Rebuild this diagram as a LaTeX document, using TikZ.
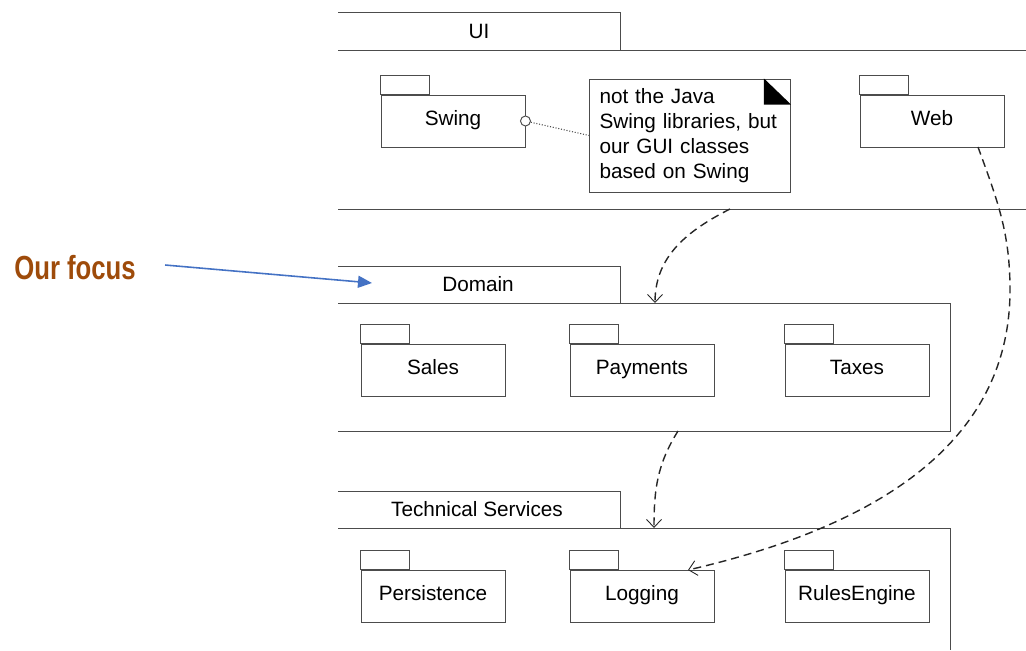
\documentclass[tikz,border=0pt]{standalone}
\usepackage{fontspec}
\setmainfont{Liberation Sans}
\newfontfamily\focusfont[FakeStretch = 0.77]{Liberation Sans}
\usetikzlibrary{arrows.meta}
\definecolor{focusbrown}{RGB}{158,75,10}
\definecolor{focusblue}{RGB}{68,114,196}

\begin{document}
\begin{tikzpicture}[
  x = 0.2mm, y = -0.2mm,
  every node/.style = {
    font = \fontsize{11.8}{14.2}\selectfont,
  },
  outline/.style = {
    draw = black!70,
    line width = 0.55pt,
  },
  package/.style = {
    outline,
    shape = rectangle,
    minimum width = 28.8mm,
    minimum height = 10.4mm,
    inner sep = 0pt,
    text height = 0.72em,
    text depth = 0.21em,
  },
  depend/.style = {
    draw = black!85,
    line width = 0.8pt,
    dash pattern = on 1.6mm off 1mm,
    -{Straight Barb[length = 1.6mm, width = 3mm, line width = 0.5pt]},
  }
]
  \useasboundingbox (0, 0) rectangle (1026, 650);

  \draw[outline] (338, 12) -| (620, 50);
  \draw[outline] (338, 50) -- (1026, 50);
  \draw[outline] (338, 209) -- (1026, 209);
  \node (ui) at (479, 31) {UI};

  \draw[outline] (338, 266) -| (620, 303);
  \draw[outline] (338, 303) -| (950, 431) -- (338, 431);
  \node (domain) at (478, 284) {Domain};

  \draw[outline] (338, 491) -| (620, 528);
  \draw[outline] (338, 528) -| (950, 650);
  \node (techservices) at (477, 509) {Technical Services};

  \node[package] (swing) at (453, 121) {Swing};
  \node[package] (web) at (932, 121) {Web};
  \node[package] (sales) at (433, 370) {Sales};
  \node[package] (payments) at (642, 370) {Payments};
  \node[package] (taxes) at (857, 370) {Taxes};
  \node[package] (persistence) at (433, 596) {Persistence};
  \node[package] (logging) at (642, 596) {Logging};
  \node[package] (rulesengine) at (857, 596) {RulesEngine};

  \foreach \pkg in {swing, web, sales, payments, taxes, persistence, logging, rulesengine}
    \draw[outline] (\pkg.north west) rectangle ++(9.8mm, 3.8mm);

  \node[outline, text width = 36.2mm, minimum width = 40.2mm, minimum height = 22.6mm,
    inner xsep = 2mm, align = left] (note) at (690, 135.5)
    {not the Java\\ Swing libraries, but\\ our GUI classes\\ based on Swing};
  \fill (note.north east) ++(-5.4mm, 0) -- ++(0, -5.2mm) -- ++(5.4mm, 0) -- cycle;

  \node[outline, circle, minimum size = 2mm, inner sep = 0pt, fill = white] (port) at (swing.east) {};
  \draw[densely dotted, black!70, line width = 0.6pt] (port) -- (note.west);

  \coordinate (uiout) at (730, 209);
  \coordinate (domainin) at (655, 303);
  \coordinate (domainout) at (678, 431);
  \coordinate (techin) at (654, 528);
  \coordinate (webout) at (978, 147);
  \coordinate (bend) at (1010, 290);
  \coordinate (loggingin) at (688, 570);

  \draw[depend] (uiout) to[out = -153, in = 90] (domainin);
  \draw[depend] (domainout) to[out = -122, in = 90] (techin);
  \draw[depend] (webout) to[out = -70, in = 90] (bend) to[out = -90, in = 13] (loggingin);

  \node[inner sep = 0pt, text = focusbrown,
    font = \focusfont\bfseries\fontsize{19}{22}\selectfont] (focus) at (75, 268) {Our focus};
  \coordinate (focustip) at (372, 283);
  \draw[focusblue, line width = 0.9pt, -{Triangle[length = 2.8mm, width = 2.4mm]}]
    ([xshift = 5.8mm, yshift = 0.6mm] focus.east) -- (focustip);
\end{tikzpicture}
\end{document}
